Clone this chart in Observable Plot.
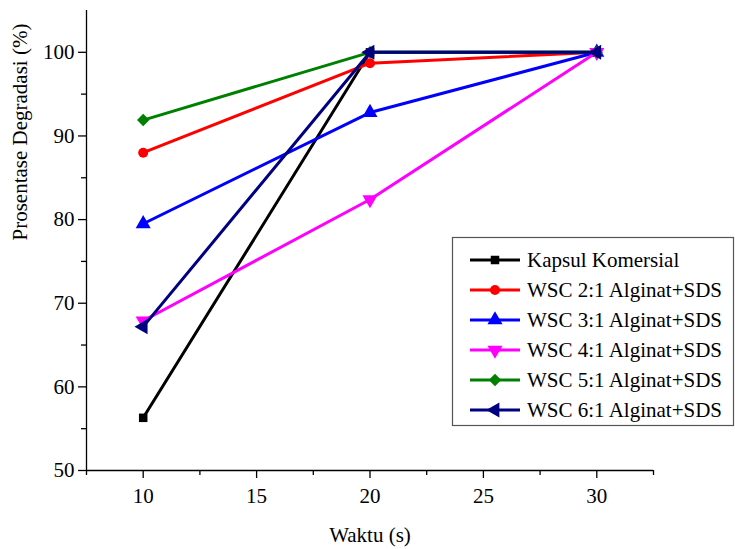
<!DOCTYPE html>
<html>
<head>
<meta charset="utf-8">
<script src="https://cdn.jsdelivr.net/npm/d3@7"></script>
<script src="https://cdn.jsdelivr.net/npm/@observablehq/plot@0.6"></script>
<style>
  html, body { margin: 0; padding: 0; background: white; }
  #chart { position: relative; width: 735px; height: 549px; font-family: "Liberation Serif", serif; }
</style>
</head>
<body>
<div id="chart"></div>
<script>
// ---- data ----
const times = [10, 20, 30];
const seriesNames = [
  "Kapsul Komersial",
  "WSC 2:1 Alginat+SDS",
  "WSC 3:1 Alginat+SDS",
  "WSC 4:1 Alginat+SDS",
  "WSC 5:1 Alginat+SDS",
  "WSC 6:1 Alginat+SDS"
];
const kapsul = [56.3, 100, 100];
const wsc21 = [88.0, 98.7, 100];
const wsc31 = [79.5, 92.8, 100];
const wsc41 = [67.9, 82.4, 100];
const wsc51 = [91.9, 100, 100];
const wsc61 = [67.2, 100, 100];
const xMajorTicks = [10, 15, 20, 25, 30];
const xMinorTicks = [7.5, 12.5, 17.5, 22.5, 27.5, 32.5];
const yMajorTicks = [50, 60, 70, 80, 90, 100];
const yMinorTicks = [55, 65, 75, 85, 95];

const values = [kapsul, wsc21, wsc31, wsc41, wsc51, wsc61];
const colors = ["#000000", "#ff0000", "#0000ff", "#ff00ff", "#008000", "#000080"];

const sqrt3 = Math.sqrt(3);
const triangleDown = {
  draw(ctx, size) {
    const y = -Math.sqrt(size / (sqrt3 * 3));
    ctx.moveTo(0, -2 * y);
    ctx.lineTo(-sqrt3 * y, y);
    ctx.lineTo(sqrt3 * y, y);
    ctx.closePath();
  }
};
const triangleLeft = {
  draw(ctx, size) {
    const y = -Math.sqrt(size / (sqrt3 * 3));
    ctx.moveTo(2 * y, 0);
    ctx.lineTo(-y, -sqrt3 * y);
    ctx.lineTo(-y, sqrt3 * y);
    ctx.closePath();
  }
};
const symbols = [d3.symbolSquare, d3.symbolCircle, d3.symbolTriangle, triangleDown, d3.symbolDiamond2, triangleLeft];
const radii = [4.8, 5, 5.6, 5.6, 5.6, 5.6];

const table = seriesNames.flatMap((name, i) =>
  times.map((t, j) => ({series: name, x: t, y: values[i][j]}))
);

const font = "Liberation Serif";
const fs = 21;

const seriesMarks = seriesNames.flatMap((name, i) => {
  const d = table.filter(r => r.series === name);
  return [
    Plot.line(d, {x: "x", y: "y", stroke: colors[i], strokeWidth: 3}),
    Plot.dot(d, {x: "x", y: "y", fill: colors[i], stroke: "none", r: radii[i], symbol: symbols[i]})
  ];
});

const chart = Plot.plot({
  width: 735,
  height: 549,
  marginLeft: 86,
  marginRight: 82,
  marginTop: 10,
  marginBottom: 79,
  style: {fontSize: fs + "px", background: "white", color: "black", overflow: "visible"},
  x: {domain: [7.5, 32.5]},
  y: {domain: [50, 105]},
  marks: [
    ...seriesMarks,
    Plot.ruleX([7.5], {stroke: "black", strokeWidth: 1.3}),
    Plot.ruleY([50], {stroke: "black", strokeWidth: 1.3}),
    Plot.axisX({ticks: xMajorTicks, tickSize: 8, tickPadding: 10, fontSize: fs, label: null, strokeWidth: 1.3}),
    Plot.axisX({ticks: xMinorTicks, tickSize: 5, text: null, label: null, strokeWidth: 1.3}),
    Plot.axisY({ticks: yMajorTicks, tickSize: 8, tickPadding: 4, fontSize: fs, label: null, strokeWidth: 1.3}),
    Plot.axisY({ticks: yMinorTicks, tickSize: 5, text: null, label: null, strokeWidth: 1.3}),
    Plot.text(["Waktu (s)"], {frameAnchor: "bottom", dy: 65, lineAnchor: "middle", fontSize: fs, fill: "black"}),
    Plot.text(["Prosentase Degradasi (%)"], {frameAnchor: "left", dx: -66, rotate: -90, lineAnchor: "middle", fontSize: fs, fill: "black"})
  ]
});

// ---- legend ----
const svg = d3.select(chart);
const lg = svg.append("g").attr("text-anchor", "start");
const lx = 452.5, ly = 237.5, lw = 281, lh = 188;
lg.append("rect").attr("x", lx).attr("y", ly).attr("width", lw).attr("height", lh)
  .attr("fill", "white").attr("stroke", "#555").attr("stroke-width", 1.2);
seriesNames.forEach((name, i) => {
  const cy = 260 + i * 30;
  lg.append("line").attr("x1", 470).attr("x2", 520).attr("y1", cy).attr("y2", cy)
    .attr("stroke", colors[i]).attr("stroke-width", 3);
  lg.append("path")
    .attr("d", d3.symbol().type(symbols[i]).size(radii[i] * radii[i] * Math.PI)())
    .attr("transform", `translate(495,${cy})`)
    .attr("fill", colors[i]);
  lg.append("text").attr("x", 527).attr("y", cy).attr("dy", "0.35em")
    .attr("text-anchor", "start")
    .attr("font-size", fs).attr("fill", "black").text(name);
});

svg.attr("font-family", font).style("font-family", font);
svg.selectAll("g").attr("font-family", font);
svg.selectAll("text").attr("font-family", font).style("font-family", font);

document.getElementById("chart").appendChild(chart);
</script>
</body>
</html>
